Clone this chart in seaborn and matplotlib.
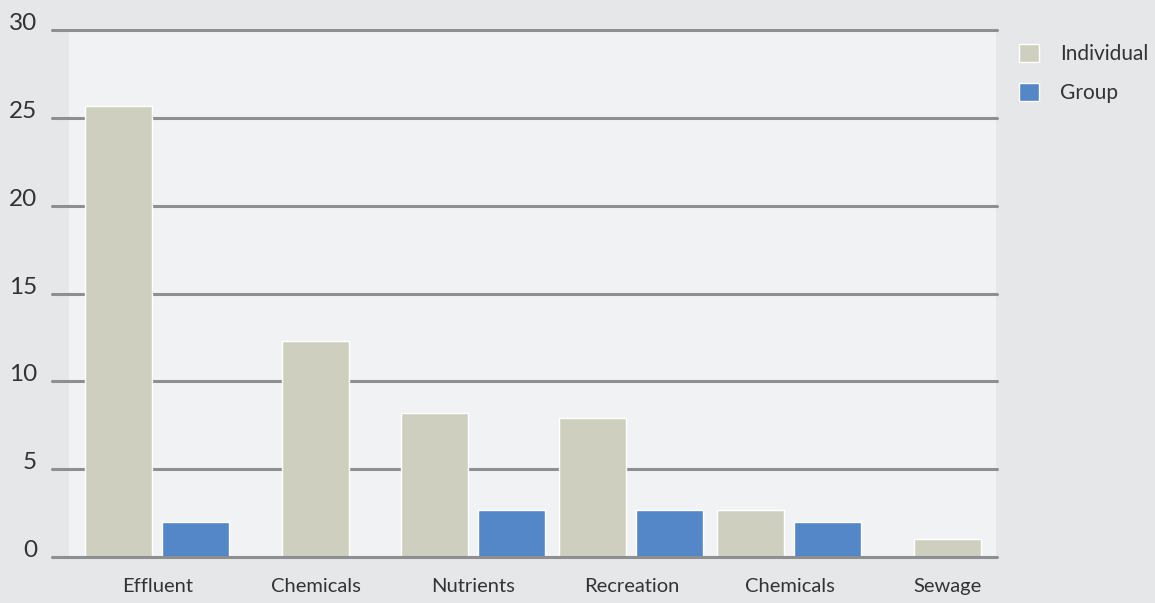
import matplotlib
matplotlib.use("Agg")
import matplotlib.pyplot as plt
from matplotlib.patches import Patch
import pandas as pd
import seaborn as sns

# Survey results by category
categories = ["Effluent", "Chemicals", "Nutrients", "Recreation", "Chemicals", "Sewage"]
individual = [25.7, 12.3, 8.2, 7.9, 2.7, 1.0]
group = [2.0, 0.0, 2.7, 2.7, 2.0, 0.0]
series_names = ["Individual", "Group"]
y_ticks = [0, 5, 10, 15, 20, 25, 30]

palette = {"Individual": "#cfcfc0", "Group": "#5387c7"}
outer_bg = "#e6e7e9"
plot_bg = "#f1f2f4"
grid_color = "#8e8f93"
text_color = "#333333"

# Bars within a category sit side by side; a category with a single
# non-zero series gets its bar centred on the category.
slot = 0.2437
rows = []
for i, vals in enumerate(zip(individual, group)):
    present = [(s, v) for s, v in zip(series_names, vals) if v > 0]
    n = len(present)
    for k, (s, v) in enumerate(present):
        rows.append({"pos": i + (k - (n - 1) / 2) * 2 * slot, "value": v, "series": s})
df = pd.DataFrame(rows)

sns.set_theme(style="white")
plt.rcParams["font.family"] = ["Lato", "DejaVu Sans"]

W, H = 1155, 603
fig = plt.figure(figsize=(W / 100, H / 100), dpi=100, facecolor=outer_bg)
ax = fig.add_axes([69 / W, (H - 557) / H, 927 / W, 527 / H])
ax.set_facecolor(plot_bg)

sns.barplot(
    data=df, x="pos", y="value", hue="series", hue_order=series_names,
    palette=palette, saturation=1, native_scale=True, dodge=False, orient="x",
    width=0.87, errorbar=None, edgecolor="white", linewidth=1.0,
    legend=False, ax=ax, zorder=3,
)

ax.set_xlim(-0.560, 5.307)
ax.set_ylim(0, 30)

for y in y_ticks:
    ax.axhline(y, xmin=-0.0183, xmax=1.001, color=grid_color, lw=2.2,
               zorder=2 if y > 0 else 4, clip_on=False)

for s in ax.spines.values():
    s.set_visible(False)

ax.set_yticks(y_ticks)
ax.set_yticklabels([str(t) for t in y_ticks], fontsize=17.5, color=text_color)
for lab in ax.get_yticklabels():
    lab.set_verticalalignment("baseline")
ax.tick_params(axis="y", length=0, pad=23)

ax.set_xticks(range(len(categories)))
ax.set_xticklabels(categories, fontsize=14.5, color=text_color)
ax.tick_params(axis="x", length=0, pad=15)
ax.set_xlabel("")
ax.set_ylabel("")

handles = [Patch(facecolor=palette[s], edgecolor="white", linewidth=1.0) for s in series_names]
fig.legend(
    handles, series_names, loc="upper left",
    bbox_to_anchor=(1019 / W, 1 - 44 / H), frameon=False,
    fontsize=15, handlelength=0.98, handleheight=0.98,
    handletextpad=1.0, labelspacing=0.9, borderpad=0, borderaxespad=0,
    labelcolor=text_color,
)

fig.savefig("out.png", dpi=100, facecolor=outer_bg)
